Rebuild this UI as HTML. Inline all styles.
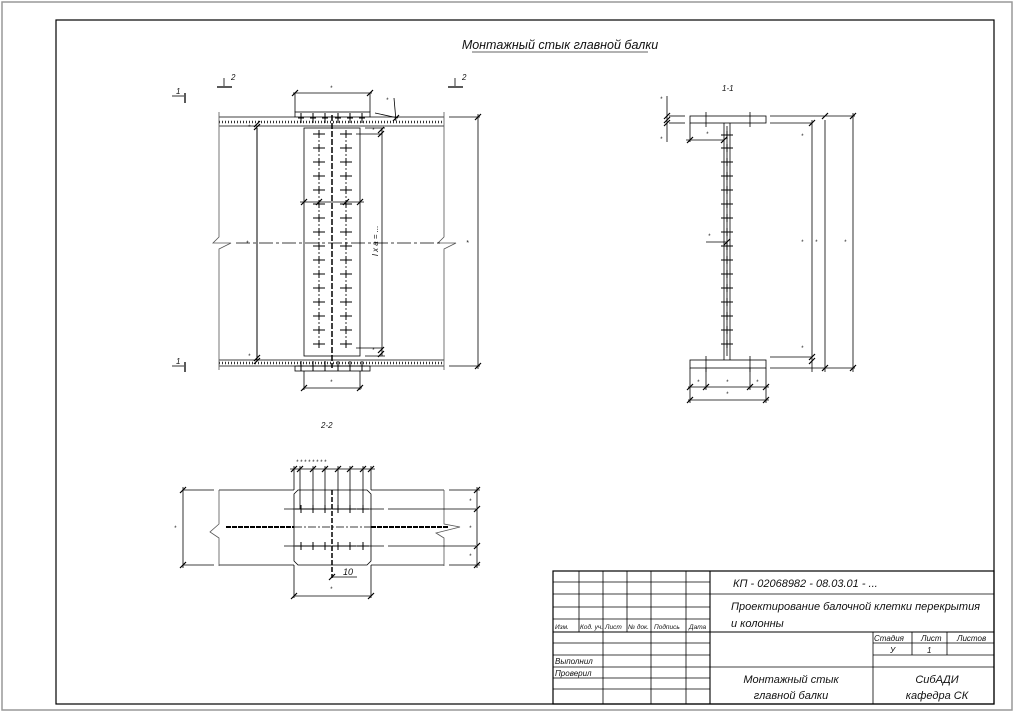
<!DOCTYPE html>
<html><head><meta charset="utf-8"><style>
html,body{margin:0;padding:0;background:#fff;}
svg{display:block;}
text{font-family:"Liberation Sans",sans-serif;font-style:italic;fill:#111;}
</style></head><body>
<svg width="1016" height="714" viewBox="0 0 1016 714" xmlns="http://www.w3.org/2000/svg">
<defs>
<g id="b"><line x1="-6" y1="0" x2="6" y2="0" stroke="#000" stroke-width="1"/><line x1="0" y1="-4" x2="0" y2="4" stroke="#000" stroke-width="1"/></g>
<g id="v"><line x1="0" y1="-5" x2="0" y2="5" stroke="#000" stroke-width="1"/><line x1="-3" y1="0" x2="3" y2="0" stroke="#000" stroke-width="1"/></g>
<g id="t"><line x1="-3" y1="3" x2="3" y2="-3" stroke="#000" stroke-width="1.2"/></g>
</defs>
<rect x="2" y="2" width="1010" height="708" fill="none" stroke="#999" stroke-width="1.5"/>
<rect x="56" y="20" width="938" height="684" fill="none" stroke="#000" stroke-width="1.2"/>

<text x="560" y="49" font-size="12.5" text-anchor="middle">Монтажный стык главной балки</text>
<line x1="472" y1="52" x2="648" y2="52" stroke="#333" stroke-width="0.8"/>

<!-- MAIN ELEVATION -->
<g stroke="#000" fill="none" stroke-width="0.8">
<!-- section marks -->
<line x1="185" y1="93" x2="185" y2="103" stroke-width="1.3"/><line x1="172" y1="96" x2="184" y2="96"/>
<line x1="185" y1="362" x2="185" y2="372" stroke-width="1.3"/><line x1="172" y1="366" x2="184" y2="366"/>
<line x1="217" y1="87" x2="232" y2="87" stroke-width="1.3"/><line x1="224" y1="78" x2="224" y2="86"/>
<line x1="448" y1="87" x2="463" y2="87" stroke-width="1.3"/><line x1="455" y1="78" x2="455" y2="86"/>
<!-- flanges -->
<line x1="219" y1="117" x2="295" y2="117"/><line x1="370" y1="117" x2="444" y2="117"/>
<line x1="219" y1="126" x2="444" y2="126"/>
<line x1="219" y1="122" x2="444" y2="122" stroke-dasharray="1 2" stroke-width="2.5" stroke="#333"/>
<line x1="219" y1="360" x2="444" y2="360"/>
<line x1="219" y1="363" x2="444" y2="363" stroke-dasharray="1 2" stroke-width="2.5" stroke="#333"/>
<line x1="219" y1="366" x2="444" y2="366"/>
<!-- beam ends with break -->
<polyline points="219,112 219,237 213,243 231,243 219,249 219,370" stroke="#555"/>
<polyline points="444,112 444,237 438,243 456,243 444,249 444,370" stroke="#555"/>
<!-- plates -->
<rect x="295" y="112" width="75" height="5"/>
<rect x="295" y="366" width="75" height="5"/>
<rect x="304" y="128" width="56" height="228"/>
<line x1="257" y1="128" x2="257" y2="360" stroke-width="1"/>
<line x1="382" y1="128" x2="382" y2="356"/>
<line x1="332" y1="115" x2="332" y2="368" stroke-dasharray="6 2" stroke-width="1.5"/>
<line x1="319" y1="130" x2="319" y2="350" stroke-dasharray="8 2 2 2"/>
<line x1="346" y1="130" x2="346" y2="350" stroke-dasharray="8 2 2 2"/>
<line x1="236" y1="243" x2="442" y2="243" stroke-dasharray="14 3 3 3"/>
<!-- dims -->
<line x1="293" y1="93" x2="372" y2="93"/><line x1="295" y1="93" x2="295" y2="112"/><line x1="370" y1="93" x2="370" y2="112"/>
<line x1="304" y1="388" x2="362" y2="388"/><line x1="304" y1="371" x2="304" y2="390"/><line x1="360" y1="371" x2="360" y2="390"/>
<line x1="394" y1="98" x2="396" y2="121"/><line x1="375" y1="113" x2="398" y2="118"/>
<line x1="449" y1="117" x2="480" y2="117"/><line x1="449" y1="366" x2="480" y2="366"/>
<line x1="478" y1="114" x2="478" y2="369"/>
<line x1="300" y1="202" x2="364" y2="202"/>
<line x1="356" y1="134" x2="382" y2="134"/><line x1="356" y1="348" x2="382" y2="348"/>
<line x1="365" y1="128" x2="385" y2="128"/><line x1="365" y1="356" x2="385" y2="356"/>
</g>
<use href="#t" x="295" y="93"/><use href="#t" x="370" y="93"/><use href="#t" x="304" y="388"/><use href="#t" x="360" y="388"/>
<use href="#t" x="396" y="118"/><use href="#t" x="478" y="117"/><use href="#t" x="478" y="366"/>
<use href="#t" x="257" y="124"/><use href="#t" x="257" y="127"/><use href="#t" x="257" y="358"/><use href="#t" x="257" y="361"/>
<use href="#t" x="304" y="202"/><use href="#t" x="319" y="202"/><use href="#t" x="346" y="202"/><use href="#t" x="360" y="202"/>
<use href="#t" x="381" y="130"/><use href="#t" x="381" y="134"/><use href="#t" x="381" y="350"/><use href="#t" x="381" y="354"/>
<g>
<use href="#b" x="319" y="134"/><use href="#b" x="346" y="134"/>
<use href="#b" x="319" y="148"/><use href="#b" x="346" y="148"/>
<use href="#b" x="319" y="162"/><use href="#b" x="346" y="162"/>
<use href="#b" x="319" y="176"/><use href="#b" x="346" y="176"/>
<use href="#b" x="319" y="190"/><use href="#b" x="346" y="190"/>
<use href="#b" x="319" y="204"/><use href="#b" x="346" y="204"/>
<use href="#b" x="319" y="218"/><use href="#b" x="346" y="218"/>
<use href="#b" x="319" y="232"/><use href="#b" x="346" y="232"/>
<use href="#b" x="319" y="246"/><use href="#b" x="346" y="246"/>
<use href="#b" x="319" y="260"/><use href="#b" x="346" y="260"/>
<use href="#b" x="319" y="274"/><use href="#b" x="346" y="274"/>
<use href="#b" x="319" y="288"/><use href="#b" x="346" y="288"/>
<use href="#b" x="319" y="302"/><use href="#b" x="346" y="302"/>
<use href="#b" x="319" y="316"/><use href="#b" x="346" y="316"/>
<use href="#b" x="319" y="330"/><use href="#b" x="346" y="330"/>
<use href="#b" x="319" y="344"/><use href="#b" x="346" y="344"/>
<use href="#v" x="301" y="118"/><use href="#v" x="313" y="118"/><use href="#v" x="325" y="118"/><use href="#v" x="338" y="118"/><use href="#v" x="350" y="118"/><use href="#v" x="362" y="118"/>
<use href="#v" x="301" y="366"/><use href="#v" x="313" y="366"/><use href="#v" x="325" y="366"/><use href="#v" x="338" y="366"/><use href="#v" x="350" y="366"/><use href="#v" x="362" y="366"/>
</g>
<g font-size="8">
<text x="176" y="94">1</text><text x="176" y="364">1</text>
<text x="231" y="80">2</text><text x="462" y="80">2</text>
<text x="330" y="90" font-size="6">*</text><text x="330" y="384" font-size="6">*</text>
<text x="386" y="102" font-size="6">*</text><text x="248" y="129" font-size="6">*</text>
<text x="248" y="358" font-size="6">*</text><text x="372" y="132" font-size="6">*</text><text x="372" y="352" font-size="6">*</text>
<text x="246" y="245" font-size="6">*</text><text x="466" y="245" font-size="7">*</text>
<text x="378" y="256" transform="rotate(-90 378 256)">l x a = ...</text>
</g>

<!-- SECTION 1-1 -->
<g stroke="#000" fill="none" stroke-width="0.8">
<rect x="690" y="116" width="76" height="7"/>
<rect x="690" y="360" width="76" height="8"/>
<line x1="724" y1="123" x2="724" y2="360"/><line x1="730" y1="123" x2="730" y2="360"/>
<line x1="727" y1="126" x2="727" y2="356"/>
<line x1="667" y1="96" x2="667" y2="142"/>
<line x1="669" y1="116" x2="685" y2="116"/><line x1="669" y1="123" x2="685" y2="123"/>
<line x1="770" y1="116" x2="855" y2="116"/><line x1="770" y1="123" x2="812" y2="123"/>
<line x1="770" y1="357" x2="812" y2="357"/><line x1="770" y1="368" x2="855" y2="368"/>
<line x1="812" y1="120" x2="812" y2="372"/><line x1="825" y1="120" x2="825" y2="372"/><line x1="853" y1="113" x2="853" y2="372"/>
<line x1="686" y1="140" x2="724" y2="140"/><line x1="690" y1="123" x2="690" y2="142"/>
<line x1="706" y1="242" x2="727" y2="242"/>
<line x1="688" y1="387" x2="769" y2="387"/><line x1="688" y1="400" x2="769" y2="400"/>
<line x1="690" y1="368" x2="690" y2="403"/><line x1="766" y1="368" x2="766" y2="403"/>
<line x1="706" y1="368" x2="706" y2="390"/><line x1="750" y1="368" x2="750" y2="390"/>
<line x1="706" y1="112" x2="706" y2="127"/><line x1="750" y1="112" x2="750" y2="127"/>
<line x1="706" y1="356" x2="706" y2="372"/><line x1="750" y1="356" x2="750" y2="372"/>
</g>
<use href="#t" x="667" y="116"/><use href="#t" x="667" y="120"/><use href="#t" x="667" y="123"/>
<use href="#t" x="812" y="123"/><use href="#t" x="825" y="116"/><use href="#t" x="853" y="116"/>
<use href="#t" x="812" y="357"/><use href="#t" x="812" y="361"/><use href="#t" x="825" y="368"/><use href="#t" x="853" y="368"/>
<use href="#t" x="690" y="140"/><use href="#t" x="724" y="140"/><use href="#t" x="727" y="242"/>
<use href="#t" x="690" y="387"/><use href="#t" x="706" y="387"/><use href="#t" x="750" y="387"/><use href="#t" x="766" y="387"/>
<use href="#t" x="690" y="400"/><use href="#t" x="766" y="400"/>
<g>
<use href="#b" x="727" y="135"/><use href="#b" x="727" y="148"/><use href="#b" x="727" y="162"/><use href="#b" x="727" y="176"/>
<use href="#b" x="727" y="190"/><use href="#b" x="727" y="204"/><use href="#b" x="727" y="218"/><use href="#b" x="727" y="232"/>
<use href="#b" x="727" y="246"/><use href="#b" x="727" y="260"/><use href="#b" x="727" y="274"/><use href="#b" x="727" y="288"/>
<use href="#b" x="727" y="302"/><use href="#b" x="727" y="316"/><use href="#b" x="727" y="330"/><use href="#b" x="727" y="344"/>
</g>
<g font-size="6">
<text x="722" y="91" font-size="8">1-1</text>
<text x="660" y="101">*</text><text x="660" y="141">*</text><text x="706" y="136">*</text><text x="708" y="238">*</text>
<text x="801" y="138">*</text><text x="801" y="244">*</text><text x="815" y="244">*</text><text x="844" y="244">*</text><text x="801" y="350">*</text>
<text x="697" y="384">*</text><text x="726" y="384">*</text><text x="756" y="384">*</text><text x="726" y="396">*</text>
</g>

<!-- SECTION 2-2 -->
<g stroke="#000" fill="none" stroke-width="0.8">
<line x1="183" y1="490" x2="214" y2="490"/><line x1="219" y1="490" x2="294" y2="490"/><line x1="371" y1="490" x2="444" y2="490"/><line x1="449" y1="490" x2="480" y2="490"/>
<line x1="183" y1="565" x2="214" y2="565"/><line x1="219" y1="565" x2="294" y2="565"/><line x1="371" y1="565" x2="444" y2="565"/><line x1="449" y1="565" x2="480" y2="565"/>
<polyline points="219,490 219,524 210,532 219,538 219,566" stroke="#555"/>
<polyline points="444,490 444,524 460,527 436,533 444,538 444,566" stroke="#555"/>
<path d="M298,490 H367 L371,494 V561 L367,565 H298 L294,561 V494 Z"/>
<line x1="226" y1="527" x2="294" y2="527" stroke-dasharray="5 1" stroke-width="2"/>
<line x1="371" y1="527" x2="448" y2="527" stroke-dasharray="5 1" stroke-width="2"/>
<line x1="294" y1="527" x2="371" y2="527" stroke-dasharray="8 2 2 2"/>
<line x1="332" y1="490" x2="332" y2="578" stroke-dasharray="5 2" stroke-width="1.5"/>
<line x1="284" y1="509" x2="384" y2="509"/><line x1="388" y1="509" x2="476" y2="509"/>
<line x1="284" y1="546" x2="384" y2="546"/><line x1="388" y1="546" x2="476" y2="546"/>
<line x1="183" y1="487" x2="183" y2="568"/><line x1="477" y1="487" x2="477" y2="568"/>
<line x1="290" y1="469" x2="375" y2="469"/>
<line x1="294" y1="466" x2="294" y2="490"/><line x1="300" y1="466" x2="300" y2="509"/><line x1="313" y1="466" x2="313" y2="509"/><line x1="325" y1="466" x2="325" y2="509"/>
<line x1="338" y1="466" x2="338" y2="509"/><line x1="350" y1="466" x2="350" y2="509"/><line x1="363" y1="466" x2="363" y2="509"/><line x1="371" y1="466" x2="371" y2="490"/>
<line x1="294" y1="565" x2="294" y2="598"/><line x1="371" y1="565" x2="371" y2="598"/><line x1="294" y1="596" x2="371" y2="596"/>
<line x1="332" y1="577" x2="357" y2="577"/>
</g>
<use href="#t" x="183" y="490"/><use href="#t" x="183" y="565"/>
<use href="#t" x="477" y="490"/><use href="#t" x="477" y="509"/><use href="#t" x="477" y="546"/><use href="#t" x="477" y="565"/>
<use href="#t" x="294" y="469"/><use href="#t" x="300" y="469"/><use href="#t" x="313" y="469"/><use href="#t" x="325" y="469"/><use href="#t" x="338" y="469"/><use href="#t" x="350" y="469"/><use href="#t" x="363" y="469"/><use href="#t" x="371" y="469"/>
<use href="#t" x="294" y="596"/><use href="#t" x="371" y="596"/><use href="#t" x="332" y="577"/>
<g>
<use href="#b" x="301" y="509"/><use href="#b" x="313" y="509"/><use href="#b" x="325" y="509"/><use href="#b" x="338" y="509"/><use href="#b" x="350" y="509"/><use href="#b" x="363" y="509"/>
<use href="#b" x="301" y="546"/><use href="#b" x="313" y="546"/><use href="#b" x="325" y="546"/><use href="#b" x="338" y="546"/><use href="#b" x="350" y="546"/><use href="#b" x="363" y="546"/>
</g>
<g font-size="6">
<text x="321" y="428" font-size="8">2-2</text>
<text x="296" y="464">* * * * * * * *</text>
<text x="174" y="530">*</text><text x="469" y="503">*</text><text x="469" y="530">*</text><text x="469" y="558">*</text>
<text x="330" y="591">*</text>
<text x="343" y="575" font-size="9">10</text>
</g>

<!-- TITLE BLOCK -->
<g stroke="#000" fill="none" stroke-width="0.8">
<rect x="553" y="571" width="441" height="133" stroke-width="1.2"/>
<line x1="710" y1="571" x2="710" y2="704" stroke-width="1.1"/>
<line x1="579" y1="571" x2="579" y2="632"/><line x1="603" y1="571" x2="603" y2="704"/>
<line x1="627" y1="571" x2="627" y2="632"/><line x1="651" y1="571" x2="651" y2="704"/><line x1="686" y1="571" x2="686" y2="704"/>
<line x1="553" y1="582" x2="710" y2="582"/><line x1="553" y1="594" x2="994" y2="594"/>
<line x1="553" y1="607" x2="710" y2="607"/><line x1="553" y1="619" x2="710" y2="619"/>
<line x1="553" y1="632" x2="994" y2="632" stroke-width="1.1"/>
<line x1="553" y1="643" x2="710" y2="643"/><line x1="553" y1="655" x2="710" y2="655"/>
<line x1="553" y1="667" x2="994" y2="667"/><line x1="553" y1="678" x2="710" y2="678"/><line x1="553" y1="689" x2="710" y2="689"/>
<line x1="873" y1="632" x2="873" y2="704"/><line x1="912" y1="632" x2="912" y2="655"/><line x1="947" y1="632" x2="947" y2="655"/>
<line x1="873" y1="643" x2="994" y2="643"/><line x1="873" y1="655" x2="994" y2="655"/>
</g>
<g font-size="6.5">
<text x="555" y="629">Изм.</text><text x="580" y="629">Код. уч.</text><text x="605" y="629">Лист</text><text x="628" y="629">№ док.</text><text x="654" y="629">Подпись</text><text x="689" y="629">Дата</text>
<text x="555" y="664" font-size="8">Выполнил</text><text x="555" y="676" font-size="8">Проверил</text>
<text x="874" y="641" font-size="8">Стадия</text><text x="921" y="641" font-size="8">Лист</text><text x="957" y="641" font-size="8">Листов</text>
<text x="890" y="653" font-size="8">У</text><text x="927" y="653" font-size="8">1</text>
</g>
<text x="733" y="587" font-size="11">КП - 02068982 - 08.03.01 - ...</text>
<text x="731" y="610" font-size="11">Проектирование балочной клетки перекрытия</text>
<text x="731" y="627" font-size="11">и колонны</text>
<text x="791" y="683" font-size="11" text-anchor="middle">Монтажный стык</text>
<text x="791" y="699" font-size="11" text-anchor="middle">главной балки</text>
<text x="937" y="683" font-size="11" text-anchor="middle">СибАДИ</text>
<text x="937" y="699" font-size="11" text-anchor="middle">кафедра СК</text>
</svg>
</body></html>
